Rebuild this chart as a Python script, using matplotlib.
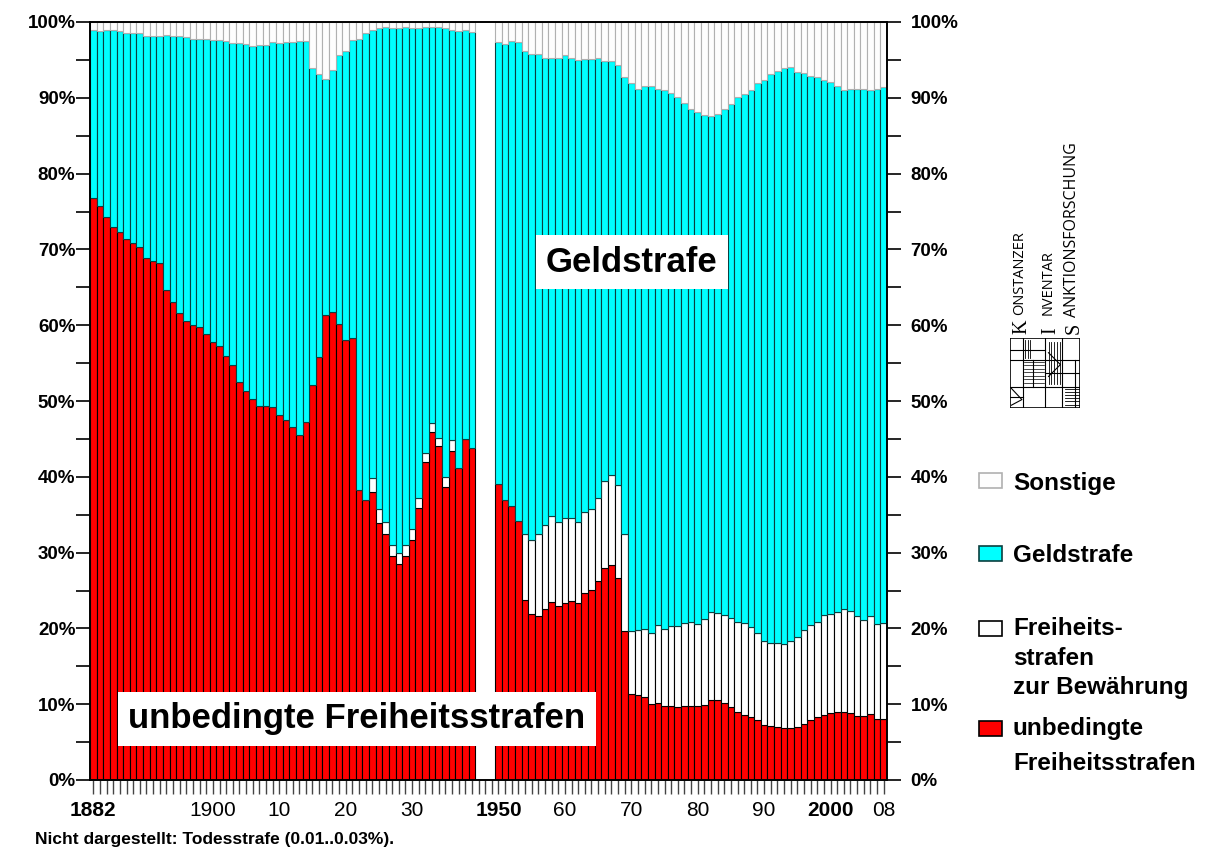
import matplotlib
matplotlib.use('Agg')
import matplotlib.pyplot as plt
from matplotlib.patches import Rectangle
import numpy as np

plt.rcParams['font.family'] = ['Liberation Sans', 'DejaVu Sans']

# --- data: shares in % per year ---
years_a = list(range(1882, 1940))
years_b = list(range(1950, 2009))

# unbedingte Freiheitsstrafen
red_a = [76.8, 75.7, 74.3, 73.0, 72.3, 71.4, 70.8, 70.3,
         68.8, 68.5, 68.2, 64.6, 63.0, 61.6, 60.6, 60.0, 59.8, 58.8,
         57.8, 57.3, 55.9, 54.8, 52.5, 51.3, 50.2, 49.3, 49.4, 49.2,
         48.2, 47.5, 46.6, 45.5, 47.2, 52.1, 55.8, 61.3, 61.8, 60.2,
         58.0, 58.3, 38.3, 37.0, 38.0, 33.9, 32.5, 29.5, 28.5, 29.6,
         31.7, 35.9, 41.9, 45.9, 44.0, 38.6, 43.4, 41.2, 45.0, 43.8]
# Freiheitsstrafen zur Bewaehrung
bew_a = [0, 0, 0, 0, 0, 0, 0, 0,
         0, 0, 0, 0, 0, 0, 0, 0, 0, 0,
         0, 0, 0, 0, 0, 0, 0, 0, 0, 0,
         0, 0, 0, 0, 0, 0, 0, 0, 0, 0,
         0, 0, 0, 0, 1.9, 1.9, 1.6, 1.5, 1.5, 1.4,
         1.4, 1.3, 1.2, 1.2, 1.1, 1.4, 1.5, 0, 0, 0]
# Geldstrafe
geld_a = [22.2, 23.1, 24.6, 25.9, 26.5, 27.2, 27.8, 28.2,
          29.4, 29.7, 29.9, 33.7, 35.2, 36.5, 37.4, 37.8, 38.0, 39.0,
          39.8, 40.3, 41.6, 42.4, 44.7, 45.8, 46.6, 47.6, 47.5, 48.1,
          49.0, 49.9, 50.8, 52.0, 50.3, 41.8, 37.4, 31.2, 31.9, 35.5,
          38.2, 39.3, 59.4, 61.5, 59.1, 63.4, 65.2, 68.2, 69.2, 68.3,
          66.1, 62.0, 56.2, 52.3, 54.3, 59.2, 54.1, 57.6, 53.9, 54.9]
# Sonstige
sonst_a = [1.0, 1.2, 1.1, 1.1, 1.2, 1.4, 1.4, 1.5,
           1.8, 1.8, 1.9, 1.7, 1.8, 1.9, 2.0, 2.2, 2.2, 2.2,
           2.4, 2.4, 2.5, 2.8, 2.8, 2.9, 3.2, 3.1, 3.1, 2.7,
           2.8, 2.6, 2.6, 2.5, 2.5, 6.1, 6.8, 7.5, 6.3, 4.3,
           3.8, 2.4, 2.3, 1.5, 1.0, 0.8, 0.7, 0.8, 0.8, 0.7,
           0.8, 0.8, 0.7, 0.6, 0.6, 0.8, 1.0, 1.2, 1.1, 1.3]

red_b = [39.1, 36.9, 36.1, 34.2, 23.8, 21.9, 21.7, 22.6, 23.5, 23.0,
         23.4, 23.6, 23.4, 24.7, 25.1, 26.3, 28.0, 28.4, 26.7, 19.7,
         11.4, 11.2, 10.9, 10.0, 10.2, 9.8, 9.8, 9.6, 9.7, 9.8,
         9.7, 9.9, 10.5, 10.5, 10.1, 9.6, 9.0, 8.6, 8.3, 7.9,
         7.3, 7.1, 7.0, 6.9, 6.9, 7.0, 7.4, 7.9, 8.3, 8.6,
         8.8, 9.0, 9.0, 8.9, 8.5, 8.4, 8.7, 8.1, 8.1]
bew_b = [0, 0, 0, 0, 8.6, 9.7, 10.7, 11.1, 11.3, 11.0,
         11.1, 10.9, 10.6, 10.7, 10.6, 10.9, 11.5, 11.9, 12.2, 12.8,
         8.3, 8.6, 9.0, 9.4, 10.3, 10.1, 10.5, 10.7, 11.0, 11.0,
         10.9, 11.3, 11.6, 11.5, 11.7, 11.8, 11.9, 12.1, 11.9, 11.5,
         11.1, 11.0, 11.1, 11.1, 11.5, 11.8, 12.4, 12.6, 12.5, 13.2,
         13.1, 13.1, 13.5, 13.4, 13.1, 12.7, 12.9, 12.5, 12.6]
geld_b = [58.3, 60.2, 61.4, 63.2, 63.8, 64.2, 63.4, 61.6, 60.4, 61.2,
          61.2, 60.7, 61.0, 59.7, 59.4, 58.0, 55.4, 54.6, 55.4, 60.3,
          72.3, 71.4, 71.7, 72.2, 70.7, 71.1, 70.3, 69.8, 68.6, 67.7,
          67.5, 66.5, 65.5, 65.9, 66.7, 67.8, 69.2, 69.8, 70.8, 72.6,
          74.0, 75.0, 75.4, 75.9, 75.6, 74.6, 73.5, 72.4, 71.9, 70.5,
          70.2, 69.4, 68.5, 68.9, 69.6, 70.0, 69.4, 70.6, 70.7]
sonst_b = [2.6, 2.9, 2.5, 2.6, 3.8, 4.2, 4.2, 4.7, 4.8, 4.8,
           4.3, 4.8, 5.0, 4.9, 4.9, 4.8, 5.1, 5.1, 5.7, 7.2,
           8.0, 8.8, 8.4, 8.4, 8.8, 9.0, 9.4, 9.9, 10.7, 11.5,
           11.9, 12.3, 12.4, 12.1, 11.5, 10.8, 9.9, 9.5, 9.0, 8.0,
           7.6, 6.9, 6.5, 6.1, 6.0, 6.6, 6.7, 7.1, 7.3, 7.7,
           7.9, 8.5, 9.0, 8.8, 8.8, 8.9, 9.0, 8.8, 8.6]

tick_years = [1882, 1900, 1910, 1920, 1930, 1950, 1960, 1970, 1980, 1990, 2000, 2008]
tick_labels = ['1882', '1900', '10', '20', '30', '1950', '60', '70', '80', '90', '2000', '08']
bold_labels = ['1882', '1950', '2000']

W, H = 1211, 850


def slot(year):
    # the war years are left out, with a small gap in between
    if year < 1945:
        return year - 1882
    return year - 1950 + 61


def fx(x):
    return x / W


def fy(y):
    return 1 - y / H


fig = plt.figure(figsize=(W / 100, H / 100), dpi=100)
ax = fig.add_axes([fx(90), 70 / H, 797 / W, 758 / H])

years = years_a + years_b
pos = np.array([slot(y) for y in years])
red = np.array(red_a + red_b)
bew = np.array(bew_a + bew_b)
geld = np.array(geld_a + geld_b)
sonst = np.array(sonst_a + sonst_b)

lw = 0.8
ax.bar(pos, red, width=1.0, color='#ff0000', edgecolor='black', linewidth=lw)
has_bew = bew > 0
ax.bar(pos[has_bew], bew[has_bew], bottom=red[has_bew], width=1.0,
       color='white', edgecolor='black', linewidth=lw)
ax.bar(pos, geld, bottom=red + bew, width=1.0, color='#00ffff',
       edgecolor='#0b4040', linewidth=lw)
ax.bar(pos, sonst, bottom=red + bew + geld, width=1.0, color='#fdfdfd',
       edgecolor='#b0b0b0', linewidth=lw)

ax.set_xlim(-0.5, 119.5)
ax.set_ylim(0, 100)

for s in ax.spines.values():
    s.set_linewidth(1.2)
    s.set_color('black')

# x axis: a tick for every year slot
ax.set_xticks(range(120), minor=True)
ax.set_xticks([slot(y) for y in tick_years])
ax.set_xticklabels(tick_labels, fontsize=15)
for t in ax.get_xticklabels():
    if t.get_text() in bold_labels:
        t.set_fontweight('bold')
ax.tick_params(axis='x', which='both', length=10, width=1.0, color='#444444',
               direction='out', pad=5)

# y axis, both sides
yt = list(range(0, 101, 10))
ylab = ['%d%%' % v for v in yt]
ax.set_yticks(yt)
ax.set_yticks(range(5, 100, 10), minor=True)
ax.set_yticklabels(ylab, fontsize=13.5, fontweight='bold')
ax.tick_params(axis='y', which='both', length=10, width=1.2, direction='out', pad=0.5)

ax2 = ax.twinx()
ax2.set_ylim(0, 100)
ax2.set_yticks(yt)
ax2.set_yticks(range(5, 100, 10), minor=True)
ax2.set_yticklabels(ylab, fontsize=13.5, fontweight='bold')
ax2.tick_params(axis='y', which='both', length=10, width=1.2, direction='out', pad=7)
for s in ax2.spines.values():
    s.set_linewidth(1.2)

# labels in the plot
box = dict(facecolor='white', edgecolor='none', boxstyle='square,pad=0.3')
ax.text(81.1, 68.3, 'Geldstrafe', fontsize=25, fontweight='bold',
        ha='center', va='center', bbox=box)
ax.text(39.7, 8.05, 'unbedingte Freiheitsstrafen', fontsize=25, fontweight='bold',
        ha='center', va='center', bbox=box)

fig.text(fx(35), fy(844), 'Nicht dargestellt: Todesstrafe (0.01..0.03%).',
         fontsize=12.5, fontweight='bold', ha='left', va='baseline')

# legend
legend_items = [
    ('#fdfdfd', '#b0b0b0', 473, ['Sonstige'], [490]),
    ('#00ffff', '#0b4040', 546, ['Geldstrafe'], [562]),
    ('white', 'black', 621, ['Freiheits-', 'strafen', 'zur Bewährung'], [635, 665, 694]),
    ('#ff0000', 'black', 721, ['unbedingte', 'Freiheitsstrafen'], [735, 770]),
]
for face, edge, top, lines, bases in legend_items:
    fig.add_artist(Rectangle((fx(979), fy(top + 15)), 23 / W, 15 / H,
                             transform=fig.transFigure, facecolor=face,
                             edgecolor=edge, linewidth=1.2))
    for txt, b in zip(lines, bases):
        fig.text(fx(1013), fy(b), txt, fontsize=17.5, fontweight='bold',
                 ha='left', va='baseline')

# KIS logo: big initial + rest of the word, turned by 90 degrees
for big, x_big, small, x_small, y_small, size in [
        ('K', 1012, 'ONSTANZER', 1012, 315, 10.5),
        ('I', 1041.5, 'NVENTAR', 1041, 315, 10.5),
        ('S', 1065, 'ANKTIONSFORSCHUNG', 1064.5, 317, 11.5)]:
    fig.text(fx(x_big), fy(334), big, fontsize=14.5, rotation=90,
             family=['Liberation Serif', 'DejaVu Serif'], ha='left', va='bottom')
    fig.text(fx(x_small), fy(y_small), small, fontsize=size, rotation=90,
             family=['Open Sans', 'DejaVu Sans'], ha='left', va='bottom')

lax = fig.add_axes([fx(1010), fy(408), 70 / W, 70 / H])
lax.set_xlim(0, 1)
lax.set_ylim(0, 1)
lax.axis('off')
lax.add_patch(Rectangle((0, 0), 1, 1, fill=False, edgecolor='black', linewidth=1.2))
for u in [0.19, 0.5, 0.74]:
    lax.plot([u, u], [0, 1], color='black', linewidth=0.8)
for v in [0.3, 0.69]:
    lax.plot([0, 1], [v, v], color='black', linewidth=0.8)
lax.plot([0, 0.5], [0.83, 0.83], color='black', linewidth=0.8)
lax.plot([0.5, 1], [0.5, 0.5], color='black', linewidth=0.8)
lax.plot([0.33, 0.33], [0.3, 0.69], color='black', linewidth=0.8)
lax.plot([0.93, 0.93], [0, 0.69], color='black', linewidth=0.8)
lax.plot([0, 0.19], [0.16, 0.16], color='black', linewidth=0.8)
# hatching that stands for the drawing of the building
for u in np.arange(0.55, 0.72, 0.04):
    lax.plot([u, u], [0.35, 0.95], color='black', linewidth=0.6)
for u in np.arange(0.22, 0.32, 0.035):
    lax.plot([u, u], [0.72, 0.97], color='black', linewidth=0.6)
for v in np.arange(0.05, 0.28, 0.045):
    lax.plot([0.78, 0.98], [v, v], color='black', linewidth=0.6)
for v in np.arange(0.36, 0.66, 0.05):
    lax.plot([0.2, 0.48], [v, v], color='black', linewidth=0.5)
lax.plot([0.55, 0.72, 0.55], [0.45, 0.62, 0.79], color='black', linewidth=0.8)
lax.plot([0.02, 0.17, 0.02], [0.04, 0.12, 0.28], color='black', linewidth=0.8)

fig.savefig('out.png', dpi=100)
